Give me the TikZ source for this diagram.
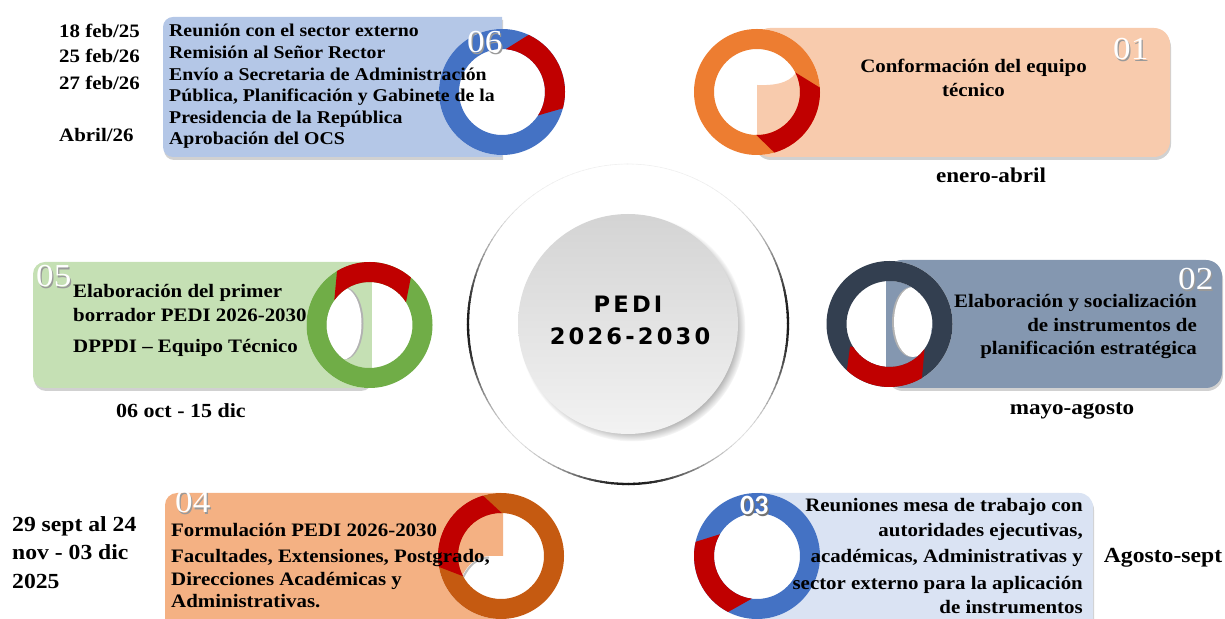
\documentclass[tikz,border=0pt]{standalone}
\usepackage{fontspec}
\setmainfont{Liberation Serif}[FakeStretch=1.1]
\newfontfamily\numsans{Carlito}
\newfontfamily\pedisans[LetterSpace=14]{DejaVu Sans}
\usetikzlibrary{shadows}

\definecolor{boxsix}{HTML}{B4C7E7}
\definecolor{ringsix}{HTML}{4472C4}
\definecolor{boxone}{HTML}{F8CBAD}
\definecolor{ringone}{HTML}{ED7D31}
\definecolor{boxtwo}{HTML}{8497B0}
\definecolor{ringtwo}{HTML}{333F50}
\definecolor{boxfive}{HTML}{C5E0B4}
\definecolor{ringfive}{HTML}{70AD47}
\definecolor{boxfour}{HTML}{F4B183}
\definecolor{ringfour}{HTML}{C55A11}
\definecolor{boxthree}{HTML}{DAE3F3}
\definecolor{ringthree}{HTML}{4472C4}
\definecolor{ringred}{HTML}{C00000}

\tikzset{
  boxtext/.style={font=\fontsize{19}{23}\selectfont\bfseries, inner sep=0pt},
  smalltext/.style={font=\fontsize{18}{21.6}\selectfont\bfseries, inner sep=0pt},
  datetext/.style={font=\fontsize{19}{23}\selectfont\bfseries, inner sep=0pt},
  periodtext/.style={font=\fontsize{21}{25}\selectfont\bfseries, inner sep=0pt},
  numtext/.style={font=\fontsize{32}{32}\selectfont, text=white, inner sep=0pt},
  numshade/.style={numtext, text=black!40},
  boxshade/.style={drop shadow={shadow xshift=1pt, shadow yshift=-3pt, opacity=.3, fill=black!60}},
  redpart/.style={fill=ringred},
  core/.style={circle, minimum size=220pt, inner sep=0pt, top color=black!17, bottom color=black!5,
    circular drop shadow={shadow xshift=4pt, shadow yshift=-4pt, shadow scale=1.03}},
  peditext/.style={font=\pedisans\bfseries\fontsize{22.6}{26}\selectfont, inner sep=0pt},
}

\begin{document}
\begin{tikzpicture}[x=1pt, y=1pt]
  \useasboundingbox (0,0) rectangle (1225,618);
  \coordinate (ctr) at (628,294);
  \coordinate (r06) at (502,526);
  \coordinate (r01) at (757,526);
  \coordinate (r02) at (889.5,294);
  \coordinate (r05) at (369.5,293);
  \coordinate (r04) at (501,62);
  \coordinate (r03) at (757,62);

  % centre
  \foreach \a in {0,2,...,358} {
    \pgfmathsetmacro\shadeval{6+84*max(abs(cos(\a))^8, max(0,-sin(\a))^8)}
    \pgfmathsetmacro\lw{0.5+1.8*\shadeval/90}
    \draw[black!\shadeval, line width=\lw pt] ([shift={(\a:160)}]ctr) arc[start angle=\a, end angle=\a+2.4, radius=160pt];
  }
  \node[core] (core) at (ctr) {};
  \node[peditext, anchor=base] (pedi) at (628,305) {PEDI};
  \node[peditext, anchor=base] (years) at (630,273) {2026-2030};

  % boxes
  \fill[boxsix, boxshade] (502,461) -- (173,461) arc[start angle=270, end angle=180, radius=10pt]
    -- (163,591) arc[start angle=180, end angle=90, radius=10pt] -- (502,601) -- cycle;
  \fill[boxone, boxshade, rounded corners=16pt] (754,461) rectangle (1170,590);
  \fill[boxtwo, boxshade, rounded corners=16pt] (886,230) rectangle (1222,358);
  \fill[boxfive, boxshade, rounded corners=12pt] (33,230) rectangle (372,356);
  \fill[boxfour, boxshade] (501,-20) -- (165,-20) -- (165,113) arc[start angle=180, end angle=90, radius=12pt]
    -- (501,125) -- cycle;
  \fill[boxthree, boxshade] (757,-20) -- (757,125) -- (1079,125) arc[start angle=90, end angle=0, radius=14pt]
    -- (1093,-20) -- cycle;

  % ring 06
  \fill[white] (r06) circle (63pt);
  \fill[ringsix, even odd rule] (r06) circle (63pt) circle (43pt);
  \fill[redpart] ([shift={(65:63)}]r06) arc[start angle=65, end angle=-15, radius=63pt]
    -- ([shift={(-33:43)}]r06) arc[start angle=-33, end angle=85, radius=43pt] -- cycle;

  % ring 01
  \fill[white] (r01) circle (63pt);
  \begin{scope}[shift={(r01)}]
    \clip (0,0) circle (43pt);
    \fill[boxone] (0,7) .. controls (25,6) and (35,12) .. (41,22) -- (50,22) -- (50,-50) -- (0,-50) -- cycle;
  \end{scope}
  \fill[ringone, even odd rule] (r01) circle (63pt) circle (43pt);
  \fill[redpart] ([shift={(4:63)}]r01) arc[start angle=4, end angle=-74, radius=63pt]
    -- ([shift={(-91:43)}]r01) arc[start angle=-91, end angle=27, radius=43pt] -- cycle;

  % ring 02
  \fill[white] (r02) circle (63pt);
  \begin{scope}[shift={(r02)}]
    \clip (0,0) circle (43pt);
    \fill[boxtwo] (-3.5,-50) rectangle (50,50);
    \fill[black!30] (21.5,2) ellipse [x radius=19pt, y radius=35pt];
    \fill[white] (23.5,2) ellipse [x radius=19pt, y radius=35pt];
  \end{scope}
  \fill[ringtwo, even odd rule] (r02) circle (63pt) circle (43pt);
  \fill[redpart] ([shift={(-132.6:63)}]r02) arc[start angle=-132.6, end angle=-59, radius=63pt]
    -- ([shift={(-35.5:43)}]r02) arc[start angle=-35.5, end angle=-148, radius=43pt]
    -- ([shift={(-39.5,-22.7)}]r02) -- cycle;

  % ring 05
  \fill[white] (r05) circle (63pt);
  \begin{scope}[shift={(r05)}]
    \clip (0,0) circle (43pt);
    \fill[boxfive] (-50,-50) rectangle (2.5,50);
    \fill[black!30] (-24.5,1.5) ellipse [x radius=18.5pt, y radius=36pt];
    \fill[white] (-26.5,1.5) ellipse [x radius=18.5pt, y radius=36pt];
  \end{scope}
  \fill[ringfive, even odd rule] (r05) circle (63pt) circle (43pt);
  \fill[redpart] ([shift={(49:63)}]r05) arc[start angle=49, end angle=121, radius=63pt]
    -- ([shift={(145:43)}]r05) arc[start angle=145, end angle=32, radius=43pt] -- cycle;

  % ring 04
  \fill[white] (r04) circle (63pt);
  \begin{scope}[shift={(r04)}]
    \clip (0,0) circle (43pt);
    \fill[boxfour] (2,0) -- (-12,0) .. controls (-25,-1) and (-33,-8) .. (-39.5,-21) -- (-50,-21) -- (-50,50) -- (2,50) -- cycle;
    \draw[black!25, line width=2pt] (-12,-1.5) .. controls (-25,-2.5) and (-32,-9.5) .. (-38.5,-22.5);
  \end{scope}
  \fill[ringfour, even odd rule] (r04) circle (63pt) circle (43pt);
  \fill[redpart] ([shift={(106.6:63)}]r04) arc[start angle=106.6, end angle=190, radius=63pt]
    -- ([shift={(208:43)}]r04) arc[start angle=208, end angle=89, radius=43pt] -- cycle;

  % ring 03
  \fill[white] (r03) circle (63pt);
  \fill[ringthree, even odd rule] (r03) circle (63pt) circle (43pt);
  \fill[redpart] ([shift={(167:63)}]r03) arc[start angle=167, end angle=242.7, radius=63pt]
    -- ([shift={(263:43)}]r03) arc[start angle=263, end angle=149.6, radius=43pt] -- cycle;

  % stage 06
  \node[datetext, anchor=base west] (d06a) at (59,580) {18 feb/25};
  \node[datetext, anchor=base west] (d06b) at (59,555) {25 feb/26};
  \node[datetext, anchor=base west] (d06c) at (59,528) {27 feb/26};
  \node[datetext, anchor=base west] (d06d) at (59,476) {Abril/26};
  \node[smalltext, anchor=base west] (t06a) at (169,581) {Reunión con el sector externo};
  \node[smalltext, anchor=base west] (t06b) at (169,559.4) {Remisión al Señor Rector};
  \node[smalltext, anchor=base west] (t06c) at (169,537.8) {Envío a Secretaria de Administración};
  \node[smalltext, anchor=base west] (t06d) at (169,516.2) {Pública, Planificación y Gabinete de la};
  \node[smalltext, anchor=base west] (t06e) at (169,494.6) {Presidencia de la República};
  \node[smalltext, anchor=base west] (t06f) at (169,473) {Aprobación del OCS};
  \node[numshade, anchor=base west] (n06s) at (468.2,563.8) {06};
  \node[numtext, anchor=base west] (n06) at (467,565) {06};

  % stage 01
  \node[boxtext, anchor=base] (t01a) at (973.5,545) {Conformación del equipo};
  \node[boxtext, anchor=base] (t01b) at (973.5,521) {técnico};
  \node[numshade, anchor=base west] (n01s) at (1114.2,556.8) {01};
  \node[numtext, anchor=base west] (n01) at (1113,558) {01};
  \node[periodtext, anchor=base] (p01) at (991,435) {enero-abril};

  % stage 02
  \node[boxtext, anchor=base east] (t02a) at (1197,310) {Elaboración y socialización};
  \node[boxtext, anchor=base east] (t02b) at (1197,286) {de instrumentos de};
  \node[boxtext, anchor=base east] (t02c) at (1197,263) {planificación estratégica};
  \node[numshade, anchor=base west] (n02s) at (1179.2,326.8) {02};
  \node[numtext, anchor=base west] (n02) at (1178,328) {02};
  \node[periodtext, anchor=base] (p02) at (1072,203) {mayo-agosto};

  % stage 05
  \node[boxtext, anchor=base west] (t05a) at (73,320) {Elaboración del primer};
  \node[boxtext, anchor=base west] (t05b) at (73,296) {borrador PEDI 2026-2030};
  \node[boxtext, anchor=base west] (t05c) at (73,265) {DPPDI – Equipo Técnico};
  \node[numshade, anchor=base west] (n05s) at (37.2,329.8) {05};
  \node[numtext, anchor=base west] (n05) at (36,331) {05};
  \node[periodtext, font=\fontsize{20}{24}\selectfont\bfseries, anchor=base] (p05) at (181,200) {06 oct - 15 dic};

  % stage 04
  \node[boxtext, anchor=base west] (t04a) at (171,81) {Formulación PEDI 2026-2030};
  \node[boxtext, anchor=base west] (t04b) at (171,56) {Facultades, Extensiones, Postgrado,};
  \node[boxtext, anchor=base west] (t04c) at (171,33) {Direcciones Académicas y};
  \node[boxtext, anchor=base west] (t04d) at (171,11) {Administrativas.};
  \node[numshade, anchor=base west] (n04s) at (176.2,103.8) {04};
  \node[numtext, anchor=base west] (n04) at (175,105) {04};
  \node[periodtext, font=\fontsize{21.5}{26}\selectfont\bfseries, anchor=base west] (p04a) at (12,86) {29 sept al 24};
  \node[periodtext, font=\fontsize{21.5}{26}\selectfont\bfseries, anchor=base west] (p04b) at (12,58) {nov - 03 dic};
  \node[periodtext, font=\fontsize{21.5}{26}\selectfont\bfseries, anchor=base west] (p04c) at (12,30) {2025};

  % stage 03
  \node[boxtext, anchor=base east] (t03a) at (1083,106) {Reuniones mesa de trabajo con};
  \node[boxtext, anchor=base east] (t03b) at (1083,81) {autoridades ejecutivas,};
  \node[boxtext, anchor=base east] (t03c) at (1083,55) {académicas, Administrativas y};
  \node[boxtext, anchor=base east] (t03d) at (1083,28) {sector externo para la aplicación};
  \node[boxtext, anchor=base east] (t03e) at (1083,5) {de instrumentos};
  \node[numtext, font=\numsans\bfseries\fontsize{28}{28}\selectfont, text=black!55, anchor=base west] (n03s) at (741.2,101.8) {03};
  \node[numtext, font=\numsans\bfseries\fontsize{28}{28}\selectfont, anchor=base west] (n03) at (740,103) {03};
  \node[periodtext, font=\fontsize{21.5}{26}\selectfont\bfseries, anchor=base] (p03) at (1163,56) {Agosto-sept};
\end{tikzpicture}
\end{document}
